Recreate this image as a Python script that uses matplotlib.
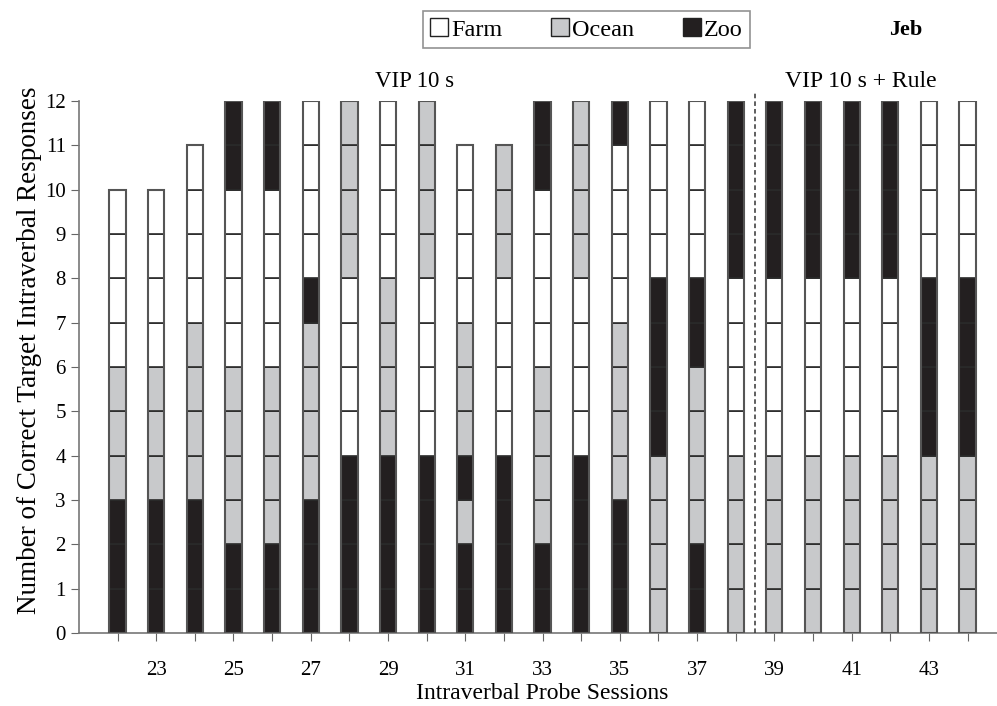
import matplotlib
matplotlib.use("Agg")
import matplotlib.pyplot as plt
from matplotlib.patches import Patch

plt.rcParams["font.family"] = ["Liberation Serif", "DejaVu Serif"]

sessions = list(range(22, 45))
# response order from the bottom of each stack: (category, count)
stacks = [
    [("Zoo", 3), ("Ocean", 3), ("Farm", 4)],
    [("Zoo", 3), ("Ocean", 3), ("Farm", 4)],
    [("Zoo", 3), ("Ocean", 4), ("Farm", 4)],
    [("Zoo", 2), ("Ocean", 4), ("Farm", 4), ("Zoo", 2)],
    [("Zoo", 2), ("Ocean", 4), ("Farm", 4), ("Zoo", 2)],
    [("Zoo", 3), ("Ocean", 4), ("Zoo", 1), ("Farm", 4)],
    [("Zoo", 4), ("Farm", 4), ("Ocean", 4)],
    [("Zoo", 4), ("Ocean", 4), ("Farm", 4)],
    [("Zoo", 4), ("Farm", 4), ("Ocean", 4)],
    [("Zoo", 2), ("Ocean", 1), ("Zoo", 1), ("Ocean", 3), ("Farm", 4)],
    [("Zoo", 4), ("Farm", 4), ("Ocean", 3)],
    [("Zoo", 2), ("Ocean", 4), ("Farm", 4), ("Zoo", 2)],
    [("Zoo", 4), ("Farm", 4), ("Ocean", 4)],
    [("Zoo", 3), ("Ocean", 4), ("Farm", 4), ("Zoo", 1)],
    [("Ocean", 4), ("Zoo", 4), ("Farm", 4)],
    [("Zoo", 2), ("Ocean", 4), ("Zoo", 2), ("Farm", 4)],
    [("Ocean", 4), ("Farm", 4), ("Zoo", 4)],
    [("Ocean", 4), ("Farm", 4), ("Zoo", 4)],
    [("Ocean", 4), ("Farm", 4), ("Zoo", 4)],
    [("Ocean", 4), ("Farm", 4), ("Zoo", 4)],
    [("Ocean", 4), ("Farm", 4), ("Zoo", 4)],
    [("Ocean", 4), ("Zoo", 4), ("Farm", 4)],
    [("Ocean", 4), ("Zoo", 4), ("Farm", 4)],
]
phase_change = 38.5
phase_labels = ["VIP 10 s", "VIP 10 s + Rule"]

colors = {"Farm": "#ffffff", "Ocean": "#c8c9cb", "Zoo": "#231f20"}

fig = plt.figure(figsize=(9.97, 7.06), dpi=100)
ax = fig.add_axes([0.0792, 0.1034, 0.93, 0.7536])

width = 0.42
for s, runs in zip(sessions, stacks):
    bottom = 0
    for cat, n in runs:
        for _ in range(n):
            ax.bar(s, 1, width=width, bottom=bottom, color=colors[cat],
                   edgecolor="#2a2a2a", linewidth=1.2, zorder=3)
            bottom += 1
    # outline of the whole bar, slightly lighter
    ax.bar(s, bottom, width=width, fill=False, edgecolor="#555555",
           linewidth=1.5, zorder=4)

ax.plot([phase_change, phase_change], [0, 12.18], ls=(0, (3, 2)),
        color="#333333", lw=1.1, clip_on=False, zorder=5)

ax.set_xlim(21, 45)
ax.set_ylim(0, 12)
ax.set_yticks(range(0, 13))
ax.set_xticks(sessions)
ax.set_xticklabels([str(s) if s % 2 == 1 else "" for s in sessions])
ax.tick_params(axis="both", labelsize=15, color="#666666", length=6)
ax.tick_params(axis="x", pad=14)

for side in ["top", "right"]:
    ax.spines[side].set_visible(False)
for side in ["left", "bottom"]:
    ax.spines[side].set_color("#777777")
    ax.spines[side].set_linewidth(1.2)

ax.set_xlabel("Intraverbal Probe Sessions", fontsize=17, labelpad=2)
ax.set_ylabel("Number of Correct Target Intraverbal Responses", fontsize=19.5,
              labelpad=2)
ax.yaxis.label.set_y(0.531)

ax.text(29.68, 12.45, phase_labels[0], fontsize=16.5, ha="center", va="center")
ax.text(41.25, 12.45, phase_labels[1], fontsize=17, ha="center", va="center")
fig.text(0.908, 0.957, "Jeb", fontsize=16, fontweight="bold",
         ha="center", va="center")

handles = [Patch(facecolor=colors[c], edgecolor="#222222", label=c)
           for c in ["Farm", "Ocean", "Zoo"]]
leg = fig.legend(handles=handles, ncol=3, loc="center",
                 bbox_to_anchor=(0.588, 0.958), fontsize=17.5, frameon=True,
                 fancybox=False, edgecolor="#777777", handlelength=0.75,
                 handleheight=0.75, handletextpad=0.12, columnspacing=2.0,
                 borderpad=0.3, borderaxespad=0)
leg.get_frame().set_linewidth(1.2)

fig.savefig("out.png", dpi=100)
